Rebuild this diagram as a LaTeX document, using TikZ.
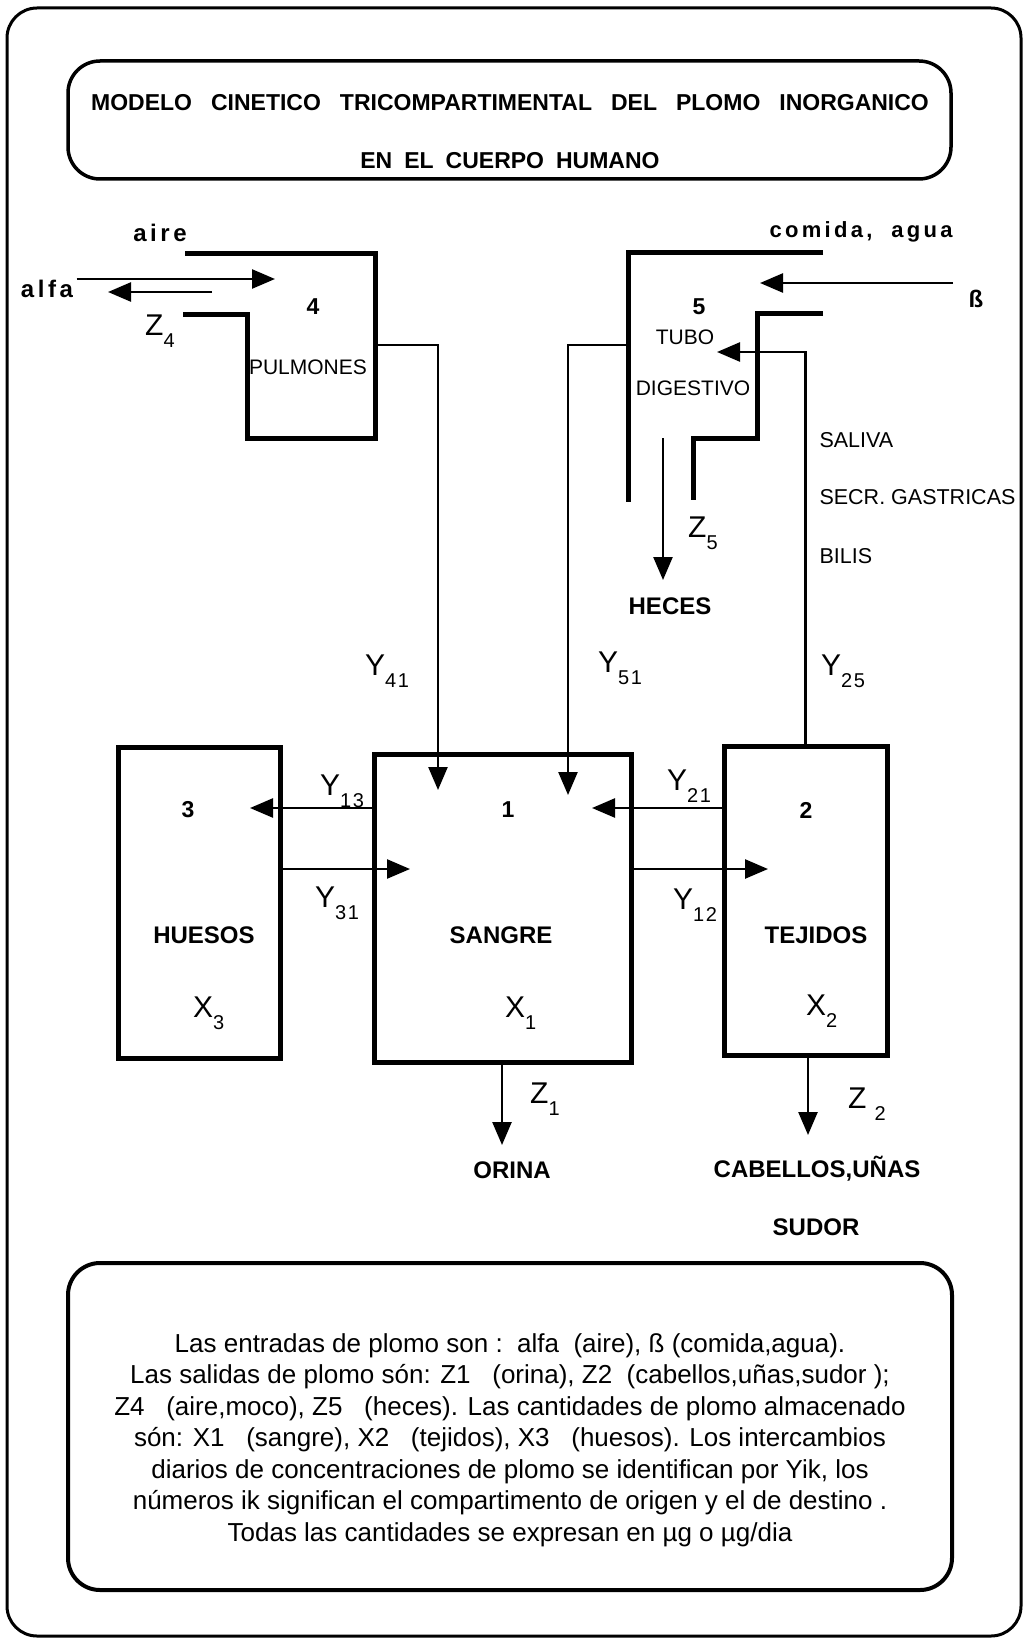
\documentclass[tikz,border=0pt]{standalone}
\usepackage{fontspec}
\setmainfont{Liberation Sans}
\newfontfamily\spacedfont{Liberation Sans}[LetterSpace=15]
\usetikzlibrary{arrows.meta}
\newcommand{\lowidx}[1]{\raisebox{-12pt}{\fontsize{20}{20}\selectfont #1}}

\begin{document}
\begin{tikzpicture}[x=1pt,y=-1pt,
  frame/.style={line width=3pt,rounded corners=30pt},
  comp/.style={draw,line width=5pt,inner sep=0pt},
  wall/.style={line width=5pt},
  flow/.style={line width=2.5pt,-{Triangle[length=23pt,width=19pt]}},
  lab/.style={font=\fontsize{24}{26}\selectfont\bfseries},
  spaced/.style={font=\spacedfont\fontsize{24}{26}\selectfont\bfseries},
  num/.style={font=\fontsize{23}{25}\selectfont\bfseries},
  tag/.style={font=\fontsize{21}{23}\selectfont},
  sym/.style={anchor=base west,inner sep=0pt,font=\fontsize{30}{32}\selectfont}]
  \useasboundingbox (0,0) rectangle (1023,1640);
  \draw[frame] (7,8) rectangle (1021,1636);
  % title
  \draw[frame,line width=3.5pt,rounded corners=32pt] (68,61) rectangle (951,179);
  \node[font=\fontsize{23}{24}\selectfont\bfseries] (title1) at (510,103)
    {MODELO\hspace{19pt}CINETICO\hspace{19pt}TRICOMPARTIMENTAL\hspace{19pt}DEL\hspace{19pt}PLOMO\hspace{19pt}INORGANICO};
  \node[font=\fontsize{23}{24}\selectfont\bfseries] (title2) at (510,161)
    {EN\hspace{12pt}EL\hspace{12pt}CUERPO\hspace{12pt}HUMANO};
  % pulmones
  \draw[wall] (185,253) -- (375,253) -- (375,438) -- (247,438) -- (247,314) -- (183,314);
  \coordinate (pulmout) at (375,345);
  \node[num] (n4) at (313,307) {4};
  \node[tag] (pulmones) at (308,367) {PULMONES};
  \node[spaced] (aire) at (160,233) {aire};
  \node[spaced,anchor=base] (alfa) at (47,297) {alfa};
  \coordinate (alfain) at (275,279);
  \draw[flow] (alfa.east |- alfain) -- (alfain);
  \coordinate (z4from) at (212,292);
  \coordinate (z4to) at (108,292);
  \draw[flow] (z4from) -- (z4to);
  \node[sym] (z4) at (145,335) {Z\lowidx{4}};
  % tubo digestivo
  \draw[wall] (823,252) -- (628,252) -- (628,502);
  \draw[wall] (823,313) -- (757,313) -- (757,438) -- (693,438) -- (693,500);
  \node[num] (n5) at (699,307) {5};
  \node[tag] (tubo) at (685,337) {TUBO};
  \node[tag] (digestivo) at (693,388) {DIGESTIVO};
  \node[spaced,font=\spacedfont\fontsize{22}{24}\selectfont\bfseries,anchor=base] (comida) at (861,237) {comida,~~agua};
  \node[lab] (beta) at (976,299) {ß};
  \coordinate (betaout) at (953,283);
  \coordinate (betain) at (760,283);
  \draw[flow] (betaout) -- (betain);
  \coordinate (hecestop) at (663,438);
  \coordinate (hecestip) at (663,580);
  \draw[flow] (hecestop) -- (hecestip);
  \node[sym] (z5) at (688,537) {Z\lowidx{5}};
  \node[lab] (heces) at (670,606) {HECES};
  \node[tag,font=\fontsize{21.5}{24}\selectfont,anchor=west] (saliva) at (816,440) {SALIVA};
  \node[tag,font=\fontsize{21.5}{24}\selectfont,anchor=west] (secr) at (816,497) {SECR. GASTRICAS};
  \node[tag,font=\fontsize{21.5}{24}\selectfont,anchor=west] (bilis) at (816,556) {BILIS};
  \coordinate (tuboout) at (628,345);
  % compartimentos
  \node[comp,minimum width=162pt,minimum height=311pt] (huesos) at (199,902.5) {};
  \node[comp,minimum width=257pt,minimum height=308pt] (sangre) at (502.5,908) {};
  \node[comp,minimum width=163pt,minimum height=309pt] (tejidos) at (805.5,900.5) {};
  \node[num] (n3) at (188,810) {3};
  \node[num] (n1) at (508,810) {1};
  \node[num] (n2) at (806,810) {2};
  \node[lab] (huesosname) at (204,935) {HUESOS};
  \node[lab] (sangrename) at (501,935) {SANGRE};
  \node[lab] (tejidosname) at (816,935) {TEJIDOS};
  \node[sym] (x3) at (193,1017) {X\lowidx{3}};
  \node[sym] (x1) at (505,1017) {X\lowidx{1}};
  \node[sym] (x2) at (806,1015) {X\lowidx{2}};
  % intercambios
  \coordinate (in41) at (438,790);
  \coordinate (in51) at (568,795);
  \coordinate (in25) at (717,352);
  \draw[flow] (pulmout) -| (in41);
  \draw[flow] (tuboout) -| (in51);
  \draw[flow] (tejidos.north) |- (in25);
  \coordinate (in13) at (250,808);
  \coordinate (in31) at (410,869);
  \coordinate (in21) at (592,808);
  \coordinate (in12) at (768,869);
  \draw[flow] (in13 -| sangre.west) -- (in13);
  \draw[flow] (in31 -| huesos.east) -- (in31);
  \draw[flow] (in21 -| tejidos.west) -- (in21);
  \draw[flow] (in12 -| sangre.east) -- (in12);
  \node[sym] (y41) at (365,675) {Y\lowidx{4\kern1.5pt 1}};
  \node[sym] (y51) at (598,672) {Y\lowidx{5\kern1.5pt 1}};
  \node[sym] (y25) at (821,675) {Y\lowidx{2\kern1.5pt 5}};
  \node[sym] (y13) at (320,795) {Y\lowidx{1\kern1.5pt 3}};
  \node[sym] (y31) at (315,907) {Y\lowidx{3\kern1.5pt 1}};
  \node[sym] (y21) at (667,790) {Y\lowidx{2\kern1.5pt 1}};
  \node[sym] (y12) at (673,909) {Y\lowidx{1\kern1.5pt 2}};
  % salidas
  \coordinate (out1) at (502,1145);
  \coordinate (out2) at (808,1135);
  \draw[flow] (out1 |- sangre.south) -- (out1);
  \draw[flow] (out2 |- tejidos.south) -- (out2);
  \node[sym] (z1) at (530,1103) {Z\lowidx{1}};
  \node[sym] (z2) at (848,1108) {Z\kern8pt\lowidx{2}};
  \node[lab] (orina) at (512,1170) {ORINA};
  \node[lab] (cabellos) at (817,1169) {CABELLOS,UÑAS};
  \node[lab] (sudor) at (816,1227) {SUDOR};
  % nota
  \draw[frame,line width=4pt,rounded corners=32pt] (68,1263) rectangle (952,1590);
  \node[align=center,font=\fontsize{26}{31.5}\selectfont] (nota) at (510,1440)
    {Las entradas de plomo son :~~alfa~~(aire), ß (comida,agua).\\
     Las salidas de plomo són: Z1~~~(orina), Z2~~(cabellos,uñas,sudor );\\
     Z4~~~(aire,moco), Z5~~~(heces). Las cantidades de plomo almacenado\\
     són: X1~~~(sangre), X2~~~(tejidos), X3~~~(huesos). Los intercambios\\
     diarios de concentraciones de plomo se identifican por Yik, los\\
     números ik significan el compartimento de origen y el de destino .\\
     Todas las cantidades se expresan en µg o µg/dia};
\end{tikzpicture}
\end{document}
